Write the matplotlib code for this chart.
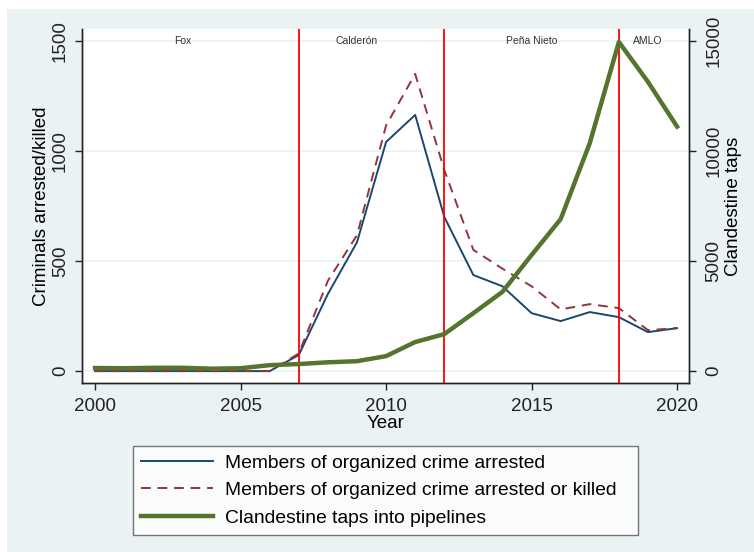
import numpy as np
import matplotlib.pyplot as plt
from matplotlib.patches import Rectangle

plt.rcParams['font.family'] = ['Liberation Sans', 'DejaVu Sans']

# Datos
years = list(range(2000, 2021))
arrested = [0, 0, 0, 0, 0, 0, 0, 73, 350, 585, 1040, 1163, 700, 436, 385,
            263, 227, 268, 245, 177, 195]
arrested_killed = [0, 0, 0, 0, 0, 0, 0, 80, 410, 617, 1115, 1349, 913, 550, 465,
                   385, 280, 304, 286, 186, 195]
taps = [140, 130, 150, 150, 110, 130, 270, 320, 400, 450, 680, 1320, 1680, 2630,
        3600, 5270, 6900, 10350, 14940, 13130, 11100]
terms = [2007, 2012, 2018]
presidents = ['Fox', 'Calderón', 'Peña Nieto', 'AMLO']
president_x = [2003, 2009, 2015, 2019]

bg = '#EAF2F3'
fig = plt.figure(figsize=(7.54, 5.52), dpi=100, facecolor='white')
fig.patches.append(Rectangle((7 / 754, 0), 1, 1 - 9 / 552, transform=fig.transFigure,
                             facecolor=bg, edgecolor='none', zorder=-10))

ax = fig.add_axes([82 / 754, 1 - 383 / 552, 607 / 754, 354 / 552])
ax.set_facecolor('white')
ax2 = ax.twinx()

# Líneas
l1, = ax.plot(years, arrested, color='#1A476F', lw=1.4, label='Members of organized crime arrested')
l2, = ax.plot(years, arrested_killed, color='#90353B', lw=1.4, ls=(0, (5, 3.5)),
              label='Members of organized crime arrested or killed')
l3, = ax2.plot(years, taps, color='#55752F', lw=3.2, label='Clandestine taps into pipelines')

for t in terms:
    ax.axvline(t, color='red', lw=1.3, zorder=5)
for name, xp in zip(presidents, president_x):
    ax.text(xp, 1500, name, ha='center', va='center', fontsize=7.5, color='#333333')

ax.set_xlim(1999.55, 2020.41)
ax.set_ylim(-54, 1553)
ax2.set_ylim(-540, 15530)
ax.set_xticks([2000, 2005, 2010, 2015, 2020])
ax.set_yticks([0, 500, 1000, 1500])
ax2.set_yticks([0, 5000, 10000, 15000])
ax.yaxis.grid(True, color=bg, lw=1.2)
ax.set_axisbelow(True)

for a in (ax, ax2):
    a.spines['top'].set_visible(False)
    for s in a.spines.values():
        s.set_color('#222222')
        s.set_linewidth(1.0)
    a.tick_params(colors='#222222', length=5, width=1.0, labelsize=13.5)
ax.tick_params(axis='x', pad=6)
ax.tick_params(axis='y', labelrotation=90, pad=4.5)
ax2.tick_params(axis='y', labelrotation=90, pad=7)
for lab in ax.get_yticklabels() + ax2.get_yticklabels():
    lab.set_va('center')

ax.set_ylabel('Criminals arrested/killed', fontsize=13.5, labelpad=1)
ax2.set_ylabel('Clandestine taps', fontsize=13.5, labelpad=1.5)
ax.set_xlabel('Year', fontsize=13.5, labelpad=0)

leg = fig.legend(handles=[l1, l2, l3], loc='upper left', mode='expand',
                 bbox_to_anchor=(133 / 754, 18 / 552, 505 / 754, 88 / 552), fontsize=13.85,
                 frameon=True, fancybox=False, edgecolor='#555555',
                 handlelength=3.75, handletextpad=0.62, labelspacing=0.53,
                 borderpad=0.42, borderaxespad=0)
leg.get_frame().set_linewidth(1.0)

fig.savefig('out.png', dpi=100, facecolor=fig.get_facecolor())
